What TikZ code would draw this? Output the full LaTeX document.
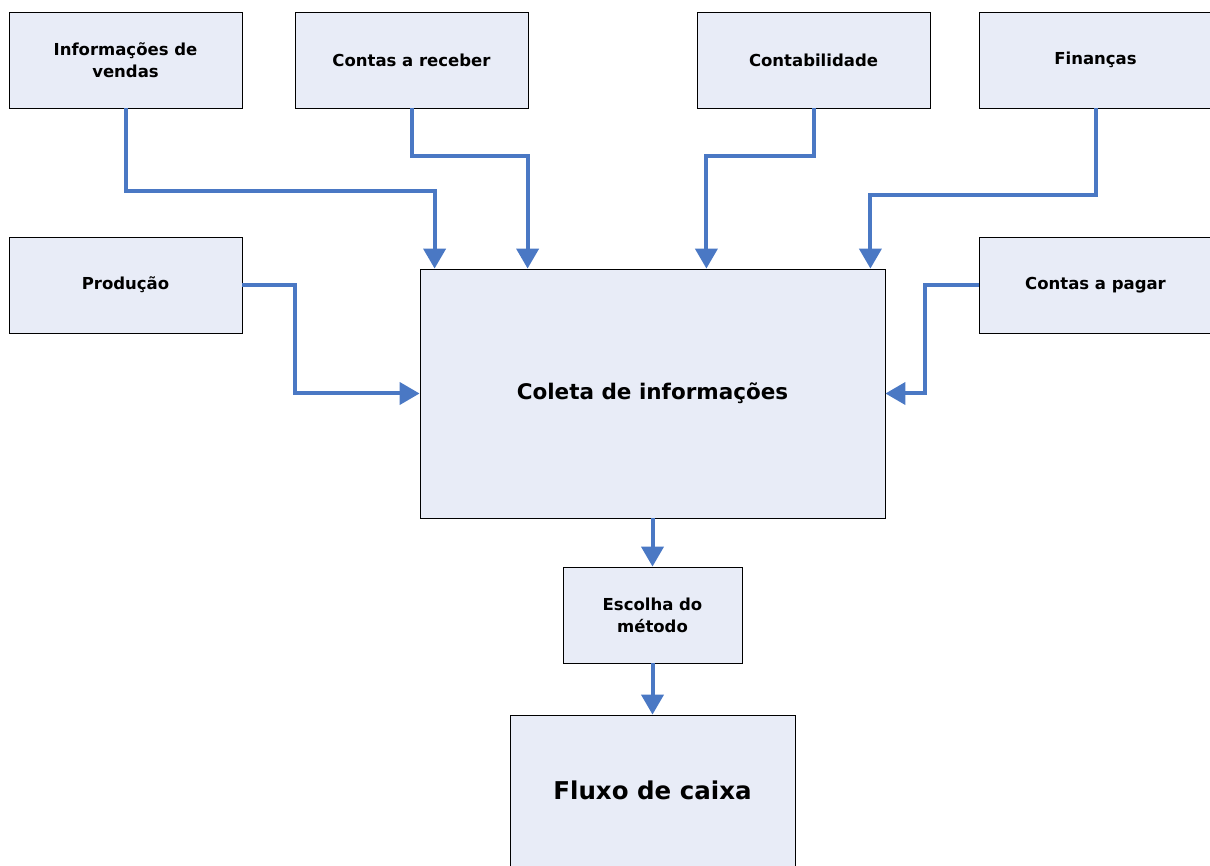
\documentclass[tikz,border=0pt]{standalone}
\usepackage{fontspec}
\setmainfont{DejaVu Sans}
\usetikzlibrary{arrows.meta}
\definecolor{boxfill}{HTML}{E8ECF7}
\definecolor{flowblue}{HTML}{4A78C4}

\begin{document}
\begin{tikzpicture}[x=1pt,y=-1pt]
		\tikzstyle{box}=[draw=black,fill=boxfill,line width=0.8pt,align=center,font=\fontsize{16.5}{22}\selectfont\bfseries,inner sep=0pt]
		\tikzstyle{small}=[box,minimum width=233pt,minimum height=96pt]
		\tikzstyle{flow}=[draw=flowblue,line width=4pt,-{Triangle[width=22pt,length=20pt]}]

		\useasboundingbox (0,0) rectangle (1210,866);

		\node (vendas) at (125.5,60) [small] {Informações de\\vendas};
		\node (receber) at (411.5,60) [small] {Contas a receber};
		\node (contab) at (813.5,60) [small] {Contabilidade};
		\node (financas) at (1095.5,60) [small] {Finanças};
		\node (producao) at (125.5,285) [small] {Produção};
		\node (pagar) at (1095.5,285) [small] {Contas a pagar};

		\node (coleta) at (652.5,393.5) [box,minimum width=465pt,minimum height=249pt,font=\fontsize{21.5}{26}\selectfont\bfseries] {Coleta de informações};
		\node (metodo) at (652.5,615) [box,minimum width=179pt,minimum height=96pt] {Escolha do\\método};
		\node (fluxo) at (652.5,790.5) [box,minimum width=285pt,minimum height=151pt,font=\fontsize{24.5}{30}\selectfont\bfseries] {Fluxo de caixa};

		\draw [flow] (vendas.south) -- ++(0,83) -| ([xshift=15]coleta.north west);
		\draw [flow] (receber.south) -- ++(0,48) -| ([xshift=108]coleta.north west);
		\draw [flow] (contab.south) -- ++(0,48) -| ([xshift=-179]coleta.north east);
		\draw [flow] (financas.south) -- ++(0,87) -| ([xshift=-15]coleta.north east);
		\draw [flow] (producao.east) -- ++(53,0) |- (coleta.west);
		\draw [flow] (pagar.west) -- ++(-54,0) |- (coleta.east);

		\draw [flow] (coleta.south) -- (metodo.north);
		\draw [flow] (metodo.south) -- (fluxo.north);
	\end{tikzpicture}
\end{document}
